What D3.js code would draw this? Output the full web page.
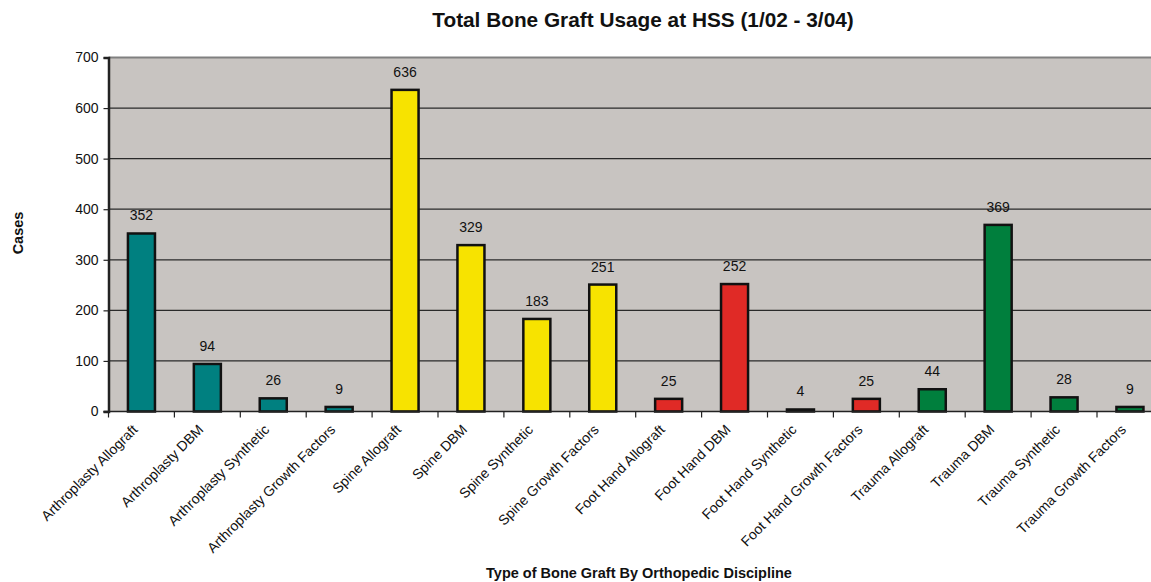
<!DOCTYPE html>
<html>
<head>
<meta charset="utf-8">
<script src="https://cdn.jsdelivr.net/npm/d3@7"></script>
<style>
  html, body { margin: 0; padding: 0; background: #fff; overflow: hidden; }
  svg text { font-family: "Liberation Sans", Arial, sans-serif; fill: #111; }
</style>
</head>
<body>
<svg id="chart" width="1151" height="582"></svg>
<script>
// Bone graft usage by type and orthopedic discipline
const categories = [
  "Arthroplasty Allograft", "Arthroplasty DBM", "Arthroplasty Synthetic", "Arthroplasty Growth Factors",
  "Spine Allograft", "Spine DBM", "Spine Synthetic", "Spine Growth Factors",
  "Foot Hand Allograft", "Foot Hand DBM", "Foot Hand Synthetic", "Foot Hand Growth Factors",
  "Trauma Allograft", "Trauma DBM", "Trauma Synthetic", "Trauma Growth Factors"
];
const cases = [352, 94, 26, 9, 636, 329, 183, 251, 25, 252, 4, 25, 44, 369, 28, 9];
const discipline = [
  "Arthroplasty", "Arthroplasty", "Arthroplasty", "Arthroplasty",
  "Spine", "Spine", "Spine", "Spine",
  "Foot Hand", "Foot Hand", "Foot Hand", "Foot Hand",
  "Trauma", "Trauma", "Trauma", "Trauma"
];
const disciplines = ["Arthroplasty", "Spine", "Foot Hand", "Trauma"];
const disciplineColors = ["#008080", "#f7e300", "#e02a26", "#007f3d"];
const yTicks = [0, 100, 200, 300, 400, 500, 600, 700];

const svg = d3.select("#chart");
const plot = { left: 108.5, top: 57.5, bottom: 411.5 };
const bandW = 65.9;
plot.right = plot.left + bandW * categories.length;

const x = d3.scaleBand().domain(categories).range([plot.left, plot.right]).paddingInner(0.59).paddingOuter(0.295);
const y = d3.scaleLinear().domain([0, 700]).range([plot.bottom, plot.top]);
const color = d3.scaleOrdinal().domain(disciplines).range(disciplineColors);

// plot background
svg.append("rect")
  .attr("x", plot.left).attr("y", plot.top)
  .attr("width", plot.right - plot.left).attr("height", plot.bottom - plot.top)
  .attr("fill", "#c8c4c1");

// gridlines
svg.append("g").selectAll("line").data(yTicks.filter(d => d > 0 && d < 700)).join("line")
  .attr("x1", plot.left).attr("x2", plot.right)
  .attr("y1", d => y(d)).attr("y2", d => y(d))
  .attr("stroke", "#2a2a2a").attr("stroke-width", 1.2);
svg.append("line")
  .attr("x1", plot.left).attr("x2", plot.right)
  .attr("y1", plot.top).attr("y2", plot.top)
  .attr("stroke", "#808080").attr("stroke-width", 2);

// bars
svg.append("g").selectAll("rect").data(categories).join("rect")
  .attr("x", d => x(d))
  .attr("y", (d, i) => y(cases[i]))
  .attr("width", x.bandwidth())
  .attr("height", (d, i) => y(0) - y(cases[i]))
  .attr("fill", (d, i) => color(discipline[i]))
  .attr("stroke", "#111").attr("stroke-width", 2.5);

// value labels
svg.append("g").selectAll("text").data(categories).join("text")
  .attr("x", d => x(d) + x.bandwidth() / 2)
  .attr("y", (d, i) => y(cases[i]) - 13)
  .attr("text-anchor", "middle")
  .attr("font-size", 14)
  .text((d, i) => cases[i]);

// y axis
const yAxis = svg.append("g")
  .attr("transform", `translate(${plot.left},0)`)
  .call(d3.axisLeft(y).tickValues(yTicks).tickSize(5).tickPadding(5));
yAxis.select(".domain").attr("stroke", "#222").attr("stroke-width", 2.5);
yAxis.selectAll(".tick line").attr("stroke", "#222").attr("stroke-width", 1.2);
yAxis.selectAll("text").attr("font-size", 14).style("font-family", "'Liberation Sans', Arial, sans-serif").attr("fill", "#111");

// x axis
const xEdges = d3.range(categories.length + 1).map(i => plot.left + i * bandW);
svg.append("line")
  .attr("x1", plot.left - 5).attr("x2", plot.right)
  .attr("y1", plot.bottom).attr("y2", plot.bottom)
  .attr("stroke", "#222").attr("stroke-width", 1.5);
svg.append("g").selectAll("line").data(xEdges).join("line")
  .attr("x1", d => d).attr("x2", d => d)
  .attr("y1", plot.bottom).attr("y2", plot.bottom + 6)
  .attr("stroke", "#222").attr("stroke-width", 1.2);

svg.append("g").selectAll("text").data(categories).join("text")
  .attr("transform", d => {
    const cx = x(d) + x.bandwidth() / 2 - 3;
    return `translate(${cx},${plot.bottom + 19}) rotate(-45)`;
  })
  .attr("text-anchor", "end")
  .attr("font-size", 14)
  .text(d => d);

// titles
svg.append("text")
  .attr("x", 643).attr("y", 27)
  .attr("text-anchor", "middle")
  .attr("font-size", 20.8).attr("font-weight", "bold")
  .text("Total Bone Graft Usage at HSS (1/02 - 3/04)");

svg.append("text")
  .attr("x", 639).attr("y", 578)
  .attr("text-anchor", "middle")
  .attr("font-size", 14.5).attr("font-weight", "bold")
  .text("Type of Bone Graft By Orthopedic Discipline");

svg.append("text")
  .attr("transform", "translate(23,233) rotate(-90)")
  .attr("text-anchor", "middle")
  .attr("font-size", 14.5).attr("font-weight", "bold")
  .text("Cases");
</script>
</body>
</html>
